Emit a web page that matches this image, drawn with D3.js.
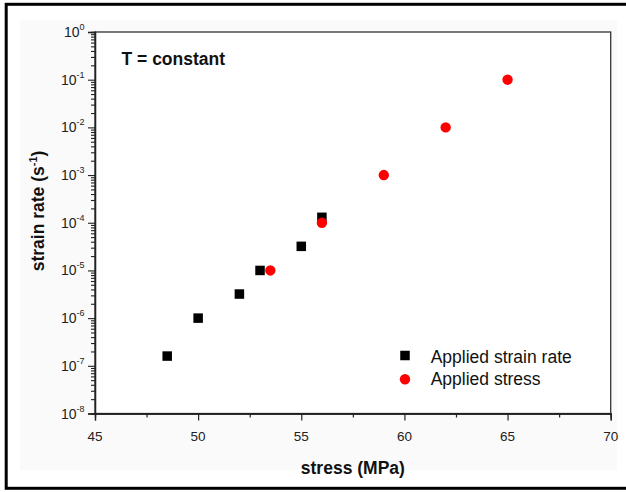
<!DOCTYPE html>
<html>
<head>
<meta charset="utf-8">
<script src="https://cdn.jsdelivr.net/npm/d3@7"></script>
<style>
  html, body { margin: 0; padding: 0; background: #fff; }
  svg { display: block; font-family: "Liberation Sans", Arial, sans-serif; }
</style>
</head>
<body>
<svg id="chart" width="626" height="492"></svg>
<script>
// Applied strain rate series (stress in MPa, strain rate in 1/s)
const strainStress = [48.5, 50, 52, 53, 55, 56];
const strainRate   = [1.6e-7, 1e-6, 3.2e-6, 1e-5, 3.2e-5, 1.3e-4];

// Applied stress series
const stressStress = [53.5, 56, 59, 62, 65];
const stressRate   = [1e-5, 1e-4, 1e-3, 1e-2, 1e-1];

// Axis ticks
const xTicks = [45, 50, 55, 60, 65, 70];
const xMinorTicks = [47.5, 52.5, 57.5, 62.5, 67.5];
const yExponents = [0, -1, -2, -3, -4, -5, -6, -7, -8];

const seriesNames = ["Applied strain rate", "Applied stress"];

const svg = d3.select("#chart");

// outer frame and panel
svg.append("rect").attr("x", 20).attr("y", 20).attr("width", 597).attr("height", 450)
  .attr("fill", "#fafafa");
svg.append("rect").attr("x", 6.2).attr("y", 4.3).attr("width", 660).attr("height", 484)
  .attr("fill", "none").attr("stroke", "#000").attr("stroke-width", 3);

const plotLeft = 95, plotRight = 610.7, plotTop = 32, plotBottom = 413.5;

const x = d3.scaleLinear().domain([45, 70]).range([plotLeft, plotRight]);
const y = d3.scaleLog().domain([1e-8, 1]).range([plotBottom, plotTop]);

// plot area
svg.append("rect").attr("x", plotLeft).attr("y", plotTop)
  .attr("width", plotRight - plotLeft).attr("height", plotBottom - plotTop)
  .attr("fill", "#fff").attr("stroke", "#333").attr("stroke-width", 1.3);

const axisColor = "#222";

// x axis: major and minor ticks
const gx = svg.append("g").attr("transform", `translate(0,${plotBottom})`);
gx.call(d3.axisBottom(x).tickValues(xTicks).tickSize(7).tickFormat(""));
const gxMinor = svg.append("g").attr("transform", `translate(0,${plotBottom})`);
gxMinor.call(d3.axisBottom(x).tickValues(xMinorTicks).tickSize(4).tickFormat(""));
[gx, gxMinor].forEach(g => {
  g.select(".domain").attr("stroke", axisColor).attr("stroke-width", 1.3);
  g.selectAll(".tick line").attr("stroke", axisColor).attr("stroke-width", 1.2);
});

svg.append("g").selectAll("text").data(xTicks).join("text")
  .attr("x", d => x(d)).attr("y", 440.5)
  .attr("text-anchor", "middle")
  .attr("font-size", 13.5).attr("fill", "#222")
  .text(d => d);

// y axis: decades with minor ticks
const yMajor = yExponents.map(e => Math.pow(10, e));
const yMinor = [];
for (let e = -8; e < 0; e++) {
  for (let m = 2; m <= 9; m++) yMinor.push(m * Math.pow(10, e));
}
const gy = svg.append("g").attr("transform", `translate(${plotLeft},0)`);
gy.call(d3.axisLeft(y).tickValues(yMajor).tickSize(7).tickFormat(""));
const gyMinor = svg.append("g").attr("transform", `translate(${plotLeft},0)`);
gyMinor.call(d3.axisLeft(y).tickValues(yMinor).tickSize(4).tickFormat(""));
[gy, gyMinor].forEach(g => {
  g.select(".domain").attr("stroke", axisColor).attr("stroke-width", 1.3);
  g.selectAll(".tick line").attr("stroke", axisColor).attr("stroke-width", 1.1);
});

const yLabels = svg.append("g").selectAll("text").data(yExponents).join("text")
  .attr("x", 84.5).attr("y", d => y(Math.pow(10, d)) + 5)
  .attr("text-anchor", "end")
  .attr("font-size", 14).attr("fill", "#222");
yLabels.append("tspan").text("10");
yLabels.append("tspan").attr("dy", -7).attr("font-size", 9).text(d => d);

// axis titles
svg.append("text").attr("x", (plotLeft + plotRight) / 2).attr("y", 474)
  .attr("text-anchor", "middle").attr("font-size", 17.5).attr("font-weight", "bold")
  .attr("fill", "#111").text("stress (MPa)");

const yTitle = svg.append("text")
  .attr("transform", "translate(44,211) rotate(-90)")
  .attr("text-anchor", "middle").attr("font-size", 17.5).attr("font-weight", "bold")
  .attr("fill", "#111");
yTitle.append("tspan").text("strain rate (s");
yTitle.append("tspan").attr("dy", -7).attr("font-size", 11).text("-1");
yTitle.append("tspan").attr("dy", 7).text(")");

// annotation
svg.append("text").attr("x", 121.5).attr("y", 65)
  .attr("font-size", 17.5).attr("font-weight", "bold").attr("fill", "#111")
  .text("T = constant");

// markers
const sq = 9.5;
svg.append("g").selectAll("rect").data(strainStress.map((s, i) => [s, strainRate[i]]))
  .join("rect")
  .attr("x", d => x(d[0]) - sq / 2).attr("y", d => y(d[1]) - sq / 2)
  .attr("width", sq).attr("height", sq).attr("fill", "#000");

svg.append("g").selectAll("circle").data(stressStress.map((s, i) => [s, stressRate[i]]))
  .join("circle")
  .attr("cx", d => x(d[0])).attr("cy", d => y(d[1]))
  .attr("r", 5.2).attr("fill", "#ff0000");

// legend
const legend = svg.append("g");
legend.append("rect").attr("x", 405 - sq / 2).attr("y", 355.5 - sq / 2)
  .attr("width", sq).attr("height", sq).attr("fill", "#000");
legend.append("circle").attr("cx", 405).attr("cy", 379.3).attr("r", 5.2).attr("fill", "#ff0000");
legend.append("text").attr("x", 430.7).attr("y", 363.3)
  .attr("font-size", 17.5).attr("fill", "#111").text(seriesNames[0]);
legend.append("text").attr("x", 430.7).attr("y", 385)
  .attr("font-size", 17.5).attr("fill", "#111").text(seriesNames[1]);
</script>
</body>
</html>
